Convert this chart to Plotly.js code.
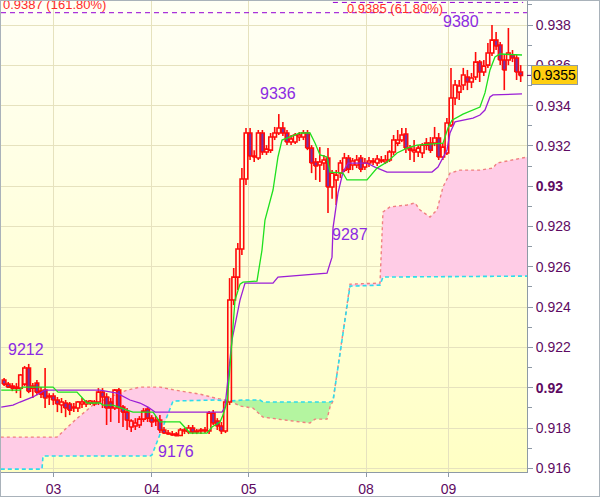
<!DOCTYPE html>
<html>
<head>
<meta charset="utf-8">
<script src="https://cdn.plot.ly/plotly-3.0.1.min.js"></script>
<style>
  html, body { margin: 0; padding: 0; background: #ffffff; }
  #frame { width: 600px; height: 497px; box-sizing: border-box; border: 1px solid #A9B2BA; }
  #chart { width: 598px; height: 495px; }
</style>
</head>
<body>
<div id="frame"><div id="chart"></div></div>
<script>
// ---- price data (in pips: 9203.8 = 0.92038) ----
const PIP = 10000;
const openP = [
9203.8, 9201.8, 9200.8, 9199.8, 9199.8, 9201.8, 9209.8, 9199.8, 9202.3, 9198.3,
9198.8, 9195.9, 9195.9, 9193.9, 9191.4, 9192.4, 9191.9, 9189.9, 9189.9, 9191.9,
9191.9, 9192.4, 9191.9, 9192.9, 9197.8, 9195.4, 9192.9, 9189.9, 9198.8, 9190.4,
9187.9, 9180.5, 9181.0, 9181.5, 9184.4, 9189.4, 9184.9, 9183.5, 9183.9, 9179.0,
9177.5, 9177.0, 9177.0, 9176.3, 9178.5, 9178.0, 9180.0, 9178.0, 9178.5, 9178.5,
9178.5, 9187.4, 9183.5, 9181.0, 9178.5, 9192.9, 9243.5, 9254.9, 9268.8, 9303.6,
9326.4, 9315.0, 9314.0, 9326.4, 9317.0, 9317.9, 9324.4, 9326.4, 9328.9, 9326.4,
9321.9, 9321.9, 9324.4, 9324.4, 9326.4, 9318.9, 9312.0, 9310.5, 9311.5, 9314.0,
9299.6, 9303.1, 9306.5, 9308.0, 9314.0, 9310.5, 9310.5, 9314.0, 9309.5, 9311.5,
9312.0, 9311.5, 9312.5, 9312.0, 9313.0, 9317.0, 9321.4, 9322.9, 9325.9, 9318.9,
9317.0, 9317.0, 9316.5, 9320.4, 9321.4, 9321.4, 9323.9, 9314.5, 9316.5, 9330.4,
9343.8, 9346.7, 9350.2, 9354.2, 9351.7, 9354.2, 9361.6, 9356.7, 9360.1, 9366.1,
9372.5, 9370.1, 9362.6, 9362.6, 9365.1, 9363.6, 9356.7
];
const highP = [
9204.8, 9202.8, 9202.3, 9202.3, 9206.8, 9210.8, 9211.8, 9202.3, 9203.8, 9200.3,
9209.8, 9197.3, 9197.3, 9195.4, 9194.9, 9193.9, 9192.9, 9192.4, 9193.4, 9194.9,
9193.9, 9193.9, 9193.9, 9199.8, 9199.8, 9197.3, 9194.9, 9199.3, 9199.8, 9191.4,
9189.9, 9184.4, 9184.9, 9185.9, 9189.9, 9190.4, 9186.4, 9185.9, 9186.4, 9180.5,
9179.0, 9178.5, 9178.0, 9180.0, 9180.0, 9181.5, 9181.5, 9179.5, 9180.0, 9180.5,
9188.4, 9188.9, 9184.9, 9183.0, 9193.9, 9254.4, 9259.4, 9271.8, 9309.0, 9328.9,
9328.9, 9317.9, 9327.9, 9327.9, 9320.4, 9326.4, 9329.4, 9335.8, 9331.9, 9327.9,
9325.4, 9326.4, 9326.9, 9327.9, 9327.9, 9320.4, 9314.0, 9319.4, 9315.5, 9318.9,
9308.0, 9308.0, 9313.0, 9316.5, 9315.5, 9314.0, 9315.5, 9315.5, 9314.0, 9314.5,
9314.0, 9315.5, 9315.0, 9315.5, 9317.9, 9325.4, 9327.9, 9328.9, 9328.9, 9320.4,
9322.9, 9320.4, 9321.4, 9323.9, 9324.4, 9329.4, 9326.4, 9321.4, 9333.8, 9358.7,
9352.7, 9352.7, 9358.7, 9357.7, 9356.2, 9366.6, 9362.6, 9362.6, 9371.1, 9380.0,
9376.5, 9371.6, 9365.1, 9378.5, 9367.6, 9365.1, 9360.1
];
const lowP = [
9200.8, 9199.8, 9198.3, 9197.3, 9194.9, 9200.8, 9197.3, 9194.9, 9196.3, 9194.9,
9189.9, 9191.4, 9191.4, 9187.9, 9187.4, 9185.4, 9186.4, 9187.9, 9187.9, 9189.9,
9190.4, 9191.4, 9190.9, 9191.4, 9189.9, 9181.5, 9183.0, 9188.9, 9182.5, 9180.5,
9179.0, 9178.0, 9179.0, 9180.0, 9183.0, 9183.0, 9180.5, 9181.0, 9177.5, 9177.0,
9176.6, 9176.2, 9176.0, 9176.0, 9177.0, 9177.0, 9177.0, 9177.0, 9177.0, 9177.5,
9177.0, 9181.5, 9179.0, 9177.0, 9177.5, 9191.4, 9241.0, 9248.5, 9265.8, 9300.6,
9313.0, 9312.0, 9313.0, 9315.5, 9315.5, 9316.5, 9322.9, 9325.4, 9324.9, 9320.4,
9320.4, 9320.9, 9322.4, 9322.9, 9317.9, 9306.5, 9303.1, 9302.1, 9308.0, 9286.7,
9293.8, 9290.7, 9304.1, 9307.0, 9306.5, 9308.0, 9309.0, 9307.0, 9308.0, 9309.5,
9310.5, 9310.0, 9311.5, 9311.0, 9312.0, 9315.5, 9319.9, 9321.9, 9316.5, 9313.0,
9312.0, 9314.5, 9314.0, 9317.9, 9316.5, 9319.9, 9313.0, 9313.0, 9315.5, 9329.4,
9340.3, 9342.8, 9347.7, 9347.7, 9348.7, 9352.7, 9351.7, 9354.7, 9358.7, 9364.6,
9367.6, 9360.1, 9347.7, 9360.1, 9361.6, 9352.7, 9351.7
];
const closeP = [
9201.8, 9200.3, 9199.8, 9200.3, 9206.3, 9209.8, 9198.3, 9200.8, 9197.8, 9196.8,
9194.9, 9195.4, 9193.9, 9191.9, 9192.9, 9189.9, 9188.9, 9190.4, 9192.9, 9192.9,
9192.9, 9193.4, 9192.9, 9197.8, 9195.4, 9189.9, 9189.9, 9198.8, 9189.9, 9187.9,
9183.9, 9183.5, 9182.5, 9184.4, 9188.4, 9184.9, 9183.0, 9183.9, 9179.0, 9177.5,
9177.0, 9176.5, 9176.2, 9179.0, 9179.0, 9180.0, 9178.0, 9178.5, 9179.0, 9179.0,
9187.4, 9182.5, 9181.0, 9178.5, 9192.9, 9243.5, 9254.9, 9268.8, 9303.6, 9326.4,
9315.0, 9314.5, 9326.4, 9317.0, 9318.4, 9324.4, 9326.4, 9328.9, 9326.4, 9321.9,
9323.4, 9325.4, 9325.4, 9326.4, 9318.9, 9311.5, 9310.0, 9312.0, 9313.0, 9299.6,
9306.5, 9305.5, 9311.5, 9314.0, 9308.5, 9312.5, 9313.0, 9308.5, 9311.5, 9312.5,
9312.5, 9313.5, 9313.0, 9313.0, 9317.0, 9322.9, 9322.9, 9325.4, 9318.9, 9317.9,
9317.9, 9318.9, 9320.4, 9321.4, 9317.9, 9323.9, 9314.5, 9319.4, 9331.4, 9343.8,
9350.2, 9349.7, 9355.2, 9351.7, 9353.7, 9361.6, 9356.7, 9359.6, 9366.1, 9372.5,
9369.6, 9362.6, 9357.7, 9366.1, 9363.6, 9356.7, 9355.0
];

// ---- Ichimoku lines (bar position, pips) ----
const tenkanX = [-0.7, 3.88, 4.37, 11.93, 13.15, 17.78, 20.22, 23.39, 24.12, 26.56, 29.98, 31.44, 36.32, 38.02, 42.90, 44.12, 45.34, 49.49, 50.71, 52.66, 53.39, 54.37, 54.85, 56.32, 57.54, 58.27, 61.68, 62.90, 63.63, 65.59, 66.80, 67.78, 72.17, 74.61, 75.83, 77.05, 78.76, 79.49, 82.66, 83.63, 88.51, 90.95, 93.39, 95.83, 98.27, 100.71, 107.05, 108.27, 109.24, 111.93, 114.37, 116.07, 117.29, 118.51, 119.73, 120.95, 126.32];
const tenkanP = [9198.8, 9198.8, 9200.3, 9200.3, 9197.8, 9197.8, 9192.4, 9192.4, 9191.4, 9191.4, 9188.9, 9187.9, 9187.9, 9183.0, 9183.0, 9180.0, 9177.5, 9177.5, 9180.5, 9183.0, 9186.4, 9192.9, 9203.8, 9243.5, 9251.4, 9252.4, 9252.9, 9268.3, 9283.2, 9298.1, 9314.5, 9322.9, 9326.4, 9326.4, 9321.4, 9315.5, 9314.5, 9307.0, 9306.5, 9303.1, 9303.1, 9309.0, 9312.0, 9316.5, 9318.9, 9320.4, 9321.4, 9328.9, 9332.8, 9335.8, 9337.8, 9339.3, 9346.3, 9357.7, 9364.1, 9365.6, 9365.1];

const kijunX = [-0.7, 2.17, 3.88, 7.05, 9.98, 23.39, 27.54, 30.71, 33.15, 35.10, 36.80, 53.15, 53.88, 55.59, 57.54, 58.76, 65.59, 66.80, 78.76, 79.98, 80.22, 81.44, 82.66, 83.88, 88.51, 90.46, 93.39, 104.37, 105.83, 108.02, 108.76, 109.98, 114.37, 116.07, 117.29, 118.51, 119.24, 126.32];
const kijunP = [9190.4, 9191.4, 9192.9, 9195.4, 9198.8, 9198.8, 9197.3, 9193.9, 9192.4, 9190.4, 9187.9, 9187.9, 9190.4, 9223.7, 9243.5, 9251.9, 9251.9, 9254.9, 9256.8, 9264.8, 9279.2, 9296.6, 9307.0, 9311.5, 9311.5, 9309.5, 9307.0, 9307.0, 9309.5, 9317.9, 9326.4, 9331.9, 9333.8, 9335.3, 9337.8, 9344.3, 9345.3, 9345.8];

const spanSalmonX = [-0.8, 12.90, 17.29, 21.68, 25.83, 29.98, 33.15, 38.02, 41.68, 47.78, 51.44, 55.10, 57.54, 60.71, 63.15, 64.85, 69.00, 72.17, 74.61, 75.83, 78.76, 79.49, 80.22, 84.37, 91.68, 92.41, 94.12, 98.27, 100.22, 101.44, 103.88, 105.59, 107.05, 108.76, 111.20, 116.07, 119.24, 120.22, 127.6];
const spanSalmonP = [9175.5, 9175.5, 9183.9, 9191.4, 9195.4, 9198.8, 9200.3, 9200.3, 9198.8, 9196.8, 9194.9, 9193.4, 9190.9, 9189.9, 9185.4, 9184.9, 9183.9, 9183.0, 9182.5, 9184.4, 9184.4, 9190.4, 9193.4, 9251.4, 9251.9, 9287.2, 9289.7, 9290.7, 9291.7, 9288.2, 9284.7, 9288.2, 9299.6, 9306.5, 9308.0, 9308.0, 9309.0, 9311.5, 9314.5];

const spanCyanX = [-0.8, 9.24, 9.49, 35.59, 36.07, 41.20, 51.44, 55.10, 58.27, 62.41, 63.15, 79.49, 80.22, 84.37, 91.68, 92.41, 127.6];
const spanCyanP = [9159.6, 9159.6, 9166.1, 9166.1, 9166.6, 9193.4, 9193.9, 9193.4, 9193.9, 9193.9, 9192.9, 9192.9, 9193.4, 9250.4, 9250.9, 9254.9, 9255.4];

const cloudBreaks = [55.10, 80.22];   // where the two spans cross

// ---- axis labels ----
const dayTickPos = [12.07, 36.07, 59.68, 88.27, 108.39];
const dayLabels = ['03', '04', '05', '08', '09'];
const priceTicks = [0.916, 0.918, 0.920, 0.922, 0.924, 0.926, 0.928, 0.930, 0.932, 0.934, 0.936, 0.938];
const priceLabels = ['0.916', '0.918', '<b>0.92</b>', '0.922', '0.924', '0.926', '0.928', '<b>0.93</b>', '0.932', '0.934', '0.936', '0.938'];

// ---- marked highs/lows ----
const markText = ['9212', '9176', '9336', '9287', '9380'];
const markX = [5.34, 41.93, 66.8, 84.37, 111.4];
const markP = [9218.8, 9168.1, 9345.8, 9275.8, 9381.5];

// ---- fibonacci levels ----
const fibLevelP = [9386.1, 9391.2];
const fibText = ['0.9387 (161.80%)', '0.9385 (61.80%)'];
const lastPrice = 0.9355;

// ------------------------------------------------------------
const toPrice = a => a.map(v => v / PIP);
const BODY_HALF = 0.44;

// candle geometry built from the OHLC arrays
const wickX = [], wickY = [], bullX = [], bullY = [], bearX = [], bearY = [];
openP.forEach((op, i) => {
  const o = op / PIP, h = highP[i] / PIP, l = lowP[i] / PIP, c = closeP[i] / PIP;
  const top = Math.max(o, c), bot = Math.min(o, c);
  wickX.push(i, i, null, i, i, null);
  wickY.push(h, top, null, bot, l, null);
  const bx = [i - BODY_HALF, i + BODY_HALF, i + BODY_HALF, i - BODY_HALF, i - BODY_HALF, null];
  const by = [bot, bot, top, top, bot, null];
  if (c >= o) { bullX.push(...bx); bullY.push(...by); }
  else { bearX.push(...bx); bearY.push(...by); }
});

function segment(xs, ps, lo, hi) {
  const ox = [], oy = [];
  for (let i = 0; i < xs.length; i++) {
    if (xs[i] >= lo - 1e-9 && xs[i] <= hi + 1e-9) { ox.push(xs[i]); oy.push(ps[i] / PIP); }
  }
  return [ox, oy];
}
function cloudPoly(lo, hi, color) {
  const [ax, ay] = segment(spanSalmonX, spanSalmonP, lo, hi);
  const [bx, by] = segment(spanCyanX, spanCyanP, lo, hi);
  return {
    type: 'scatter', mode: 'lines', fill: 'toself', fillcolor: color,
    x: ax.concat(bx.slice().reverse()), y: ay.concat(by.slice().reverse()),
    line: { width: 0 }, hoverinfo: 'skip', showlegend: false
  };
}

const RED = '#FF0A0A';
const traces = [
  cloudPoly(-5, cloudBreaks[0], '#FFCCE6'),
  cloudPoly(cloudBreaks[0], cloudBreaks[1], '#B4F5A0'),
  cloudPoly(cloudBreaks[1], 200, '#FFCCE6'),
  { type: 'scatter', mode: 'lines', x: spanSalmonX, y: toPrice(spanSalmonP),
    line: { color: '#F08080', width: 1.4, dash: '3px,3px' }, hoverinfo: 'skip', showlegend: false },
  { type: 'scatter', mode: 'lines', x: spanCyanX, y: toPrice(spanCyanP),
    line: { color: '#2EDCEC', width: 1.6, dash: '4px,3px' }, hoverinfo: 'skip', showlegend: false },
  { type: 'scatter', mode: 'lines', x: wickX, y: wickY, connectgaps: false,
    line: { color: RED, width: 1.6 }, hoverinfo: 'skip', showlegend: false },
  { type: 'scatter', mode: 'lines', x: bearX, y: bearY, connectgaps: false, fill: 'toself', fillcolor: '#7533A8',
    line: { color: RED, width: 1.6 }, hoverinfo: 'skip', showlegend: false },
  { type: 'scatter', mode: 'lines', x: bullX, y: bullY, connectgaps: false,
    line: { color: RED, width: 1.6 }, hoverinfo: 'skip', showlegend: false },
  { type: 'scatter', mode: 'lines', x: kijunX, y: toPrice(kijunP),
    line: { color: '#9B1FD6', width: 1.3 }, hoverinfo: 'skip', showlegend: false },
  { type: 'scatter', mode: 'lines', x: tenkanX, y: toPrice(tenkanP),
    line: { color: '#1EE01E', width: 1.3 }, hoverinfo: 'skip', showlegend: false }
];

const gradSvg = '<svg xmlns="http://www.w3.org/2000/svg" width="10" height="100" preserveAspectRatio="none">' +
  '<defs><linearGradient id="g" x1="0" y1="0" x2="0" y2="1">' +
  '<stop offset="0" stop-color="#FFFFF5"/><stop offset="1" stop-color="#FFFFC4"/></linearGradient></defs>' +
  '<rect width="10" height="100" fill="url(#g)"/></svg>';

const fnt = 'Arial, "Liberation Sans", sans-serif';
const labelColor = '#5E0A62';

const annotations = markText.map((t, i) => ({
  x: markX[i], y: markP[i] / PIP, xref: 'x', yref: 'y', text: t, showarrow: false,
  font: { family: fnt, size: 16, color: '#8B2BE2' }
}));
annotations.push({ x: 0.0, xref: 'paper', xanchor: 'left', y: 9390.2 / PIP, yref: 'y', yanchor: 'middle',
  text: fibText[0], showarrow: false, font: { family: fnt, size: 13, color: '#FF2A2A' } });
annotations.push({ x: 83.2, xref: 'x', xanchor: 'left', y: 9388.4 / PIP, yref: 'y', yanchor: 'middle',
  text: fibText[1], showarrow: false, font: { family: fnt, size: 13, color: '#FF2A2A' } });
annotations.push({ x: 1, xref: 'paper', xanchor: 'left', xshift: 4, y: lastPrice, yref: 'y', yanchor: 'middle',
  text: '0.9355', showarrow: false, bgcolor: '#FFCF10', bordercolor: '#8E9AA6', borderwidth: 1, borderpad: 1,
  font: { family: fnt, size: 14, color: '#000000' } });

const shapes = [
  { type: 'line', xref: 'paper', x0: 0, x1: 1, yref: 'y', y0: fibLevelP[0] / PIP, y1: fibLevelP[0] / PIP,
    line: { color: '#9400D3', width: 1, dash: '5px,4px' } },
  { type: 'line', xref: 'x', x0: 80.2, x1: 126.6, yref: 'y', y0: fibLevelP[1] / PIP, y1: fibLevelP[1] / PIP,
    line: { color: '#9400D3', width: 1, dash: '5px,4px' } },
  { type: 'line', xref: 'paper', x0: 1, x1: 1.012, yref: 'y', y0: lastPrice, y1: lastPrice,
    line: { color: '#5E0A62', width: 1 } }
];

const layout = {
  width: 598, height: 495,
  margin: { l: 0, r: 72, t: 0, b: 24 },
  paper_bgcolor: '#FFFFFF', plot_bgcolor: 'rgba(0,0,0,0)',
  showlegend: false, hovermode: false,
  images: [{ source: 'data:image/svg+xml;charset=utf-8,' + encodeURIComponent(gradSvg),
    xref: 'paper', yref: 'paper', x: 0, y: 1, sizex: 1, sizey: 1, sizing: 'stretch',
    xanchor: 'left', yanchor: 'top', layer: 'below' }],
  xaxis: {
    range: [-0.756, 127.54], fixedrange: true,
    tickvals: dayTickPos, ticktext: dayLabels, ticks: 'outside', ticklen: 4, tickcolor: '#8E9AA6',
    showgrid: true, gridcolor: '#E6E2BE', gridwidth: 1, zeroline: false,
    showline: true, linecolor: '#8E9AA6', linewidth: 1,
    tickfont: { family: fnt, size: 14, color: labelColor }
  },
  yaxis: {
    side: 'right', range: [0.915817, 0.939191], fixedrange: true,
    tickvals: priceTicks, ticktext: priceLabels, ticks: 'outside', ticklen: 5, tickcolor: '#8E9AA6',
    minor: { dtick: 0.001, tick0: 0.916, ticks: 'outside', ticklen: 4, tickcolor: '#8E9AA6', showgrid: false },
    showgrid: true, gridcolor: '#E6E2BE', gridwidth: 1, zeroline: false,
    showline: true, linecolor: '#8E9AA6', linewidth: 1,
    tickfont: { family: fnt, size: 14, color: labelColor }
  },
  annotations: annotations,
  shapes: shapes
};

Plotly.newPlot('chart', traces, layout, { staticPlot: true, displayModeBar: false });
</script>
</body>
</html>
